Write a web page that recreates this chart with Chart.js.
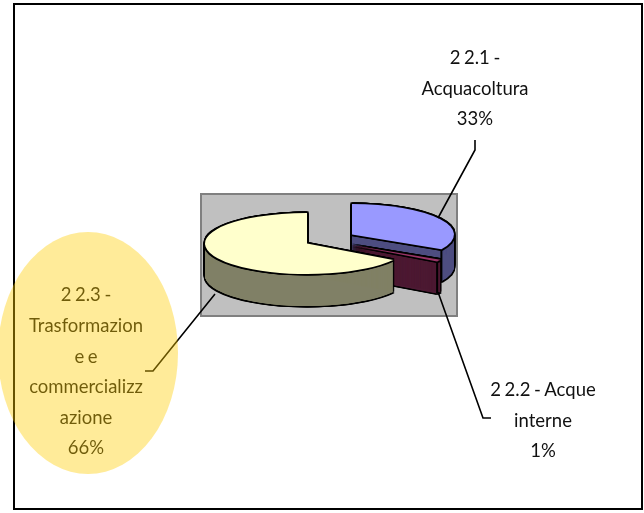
<!DOCTYPE html>
<html>
<head>
<meta charset="utf-8">
<style>
html, body { margin: 0; padding: 0; background: #fff; }
canvas { display: block; }
</style>
<script src="https://cdn.jsdelivr.net/npm/chart.js@4"></script>
</head>
<body>
<canvas id="myChart" width="644" height="513"></canvas>
<script>
// data
var categories = ['2 2.1 - Acquacoltura', '2 2.2 - Acque interne', '2 2.3 - Trasformazione e commercializzazione'];
var shares = [33, 1, 66];
var labelLines = [
    ['2 2.1 -', 'Acquacoltura'],
    ['2 2.2 - Acque', 'interne'],
    ['2 2.3 -', 'Trasformazion', 'e e', 'commercializz', 'azione']
];

// colours
var topColors = ['#9999ff', '#993366', '#ffffcc'];
var sideColors = ['#4d4d80', '#4d1a33', '#808066'];

// 3d look of the pie
var pieRadius = 102;
var tilt = 0.3;
var depth = 32;
var pieShift = { x: -22, y: -11.5 };
var explode = [{ x: 45, y: -9 }, { x: 44, y: 1.5 }, { x: 0, y: 0 }];

// label placement, callout lines
var labelPos = [{ x: 475, y: 58 }, { x: 543, y: 390 }, { x: 86, y: 295.5 }];
var lineGap = 30.6;
var callouts = [
    [[438, 218], [475, 150], [475, 140]],
    [[438, 292], [483, 418], [491, 418]],
    [[215, 294], [153, 371], [145, 371]]
];

function arcOptions(color) {
    return {
        backgroundColor: color, borderColor: color, borderWidth: 0, borderAlign: 'center',
        offset: 0, spacing: 0, circular: true, borderDash: [], borderDashOffset: 0
    };
}

function stamp(ctx, arc, i, dx, dy, color) {
    ctx.save();
    ctx.translate(arc.x + pieShift.x + explode[i].x + dx, arc.y + pieShift.y + explode[i].y + dy);
    ctx.scale(1, tilt);
    ctx.translate(-arc.x, -arc.y);
    arc.options = arcOptions(color);
    arc.draw(ctx);
    ctx.restore();
}

// black halo made by stamping the slice around its position
function outline(ctx, arc, i, dy) {
    var w = 1.4;
    var dirs = [[w, 0], [-w, 0], [0, w], [0, -w], [w, w], [-w, w], [w, -w], [-w, -w]];
    dirs.forEach(function (d) {
        stamp(ctx, arc, i, d[0], dy + d[1], '#000');
    });
}

var pie3d = {
    id: 'pie3d',
    beforeDraw: function (chart) {
        var ctx = chart.ctx, a = chart.chartArea;
        ctx.save();
        ctx.fillStyle = '#fff';
        ctx.fillRect(0, 0, chart.width, chart.height);
        ctx.strokeStyle = '#000';
        ctx.lineWidth = 2;
        ctx.strokeRect(14, 4, 628, 505);
        ctx.fillStyle = '#c0c0c0';
        ctx.fillRect(a.left, a.top, a.width, a.height);
        ctx.strokeStyle = '#808080';
        ctx.strokeRect(a.left, a.top, a.width, a.height);
        ctx.restore();
    },
    beforeDatasetsDraw: function (chart) {
        var ctx = chart.ctx;
        var arcs = chart.getDatasetMeta(0).data;
        arcs.forEach(function (arc, i) {
            var d;
            for (d = 0; d <= depth; d++) outline(ctx, arc, i, d);
            // fine steps so the very thin wedge still builds a solid face
            for (d = 0; d <= depth; d += 0.2) stamp(ctx, arc, i, 0, d, sideColors[i]);

            // edge where the cut face meets the round wall
            var ex = arc.x + pieShift.x + explode[i].x + arc.outerRadius * Math.cos(arc.endAngle);
            var ey = arc.y + pieShift.y + explode[i].y + arc.outerRadius * tilt * Math.sin(arc.endAngle);
            if (i < 2) {
                ctx.save();
                ctx.strokeStyle = '#000';
                ctx.lineWidth = 2;
                ctx.beginPath();
                ctx.moveTo(ex, ey);
                ctx.lineTo(ex, ey + depth);
                ctx.stroke();
                ctx.restore();
            }

            outline(ctx, arc, i, 0);
            stamp(ctx, arc, i, 0, 0, topColors[i]);
        });
        return false;
    },
    afterDraw: function (chart) {
        var ctx = chart.ctx;
        ctx.save();

        ctx.strokeStyle = '#000';
        ctx.lineWidth = 1.6;
        callouts.forEach(function (pts) {
            ctx.beginPath();
            pts.forEach(function (p, k) {
                if (k === 0) ctx.moveTo(p[0], p[1]); else ctx.lineTo(p[0], p[1]);
            });
            ctx.stroke();
        });

        ctx.fillStyle = '#111';
        ctx.font = '18.5px Lato';
        ctx.textAlign = 'center';
        ctx.textBaseline = 'middle';
        ctx.wordSpacing = '-1.2px';
        labelLines.forEach(function (lines, i) {
            lines.concat(shares[i] + '%').forEach(function (txt, k) {
                ctx.fillText(txt, labelPos[i].x, labelPos[i].y + k * lineGap);
            });
        });

        // highlight ellipse sits over everything
        ctx.fillStyle = 'rgba(255,204,0,0.4)';
        ctx.beginPath();
        ctx.ellipse(88, 353, 90, 121, 0, 0, Math.PI * 2);
        ctx.fill();
        ctx.restore();
    }
};

var chart = new Chart(document.getElementById('myChart'), {
    type: 'pie',
    data: {
        labels: categories,
        datasets: [{
            data: shares,
            backgroundColor: topColors,
            borderWidth: 0
        }]
    },
    options: {
        responsive: false,
        animation: false,
        radius: pieRadius,
        layout: { padding: { left: 201, top: 194, right: 187, bottom: 197 } },
        plugins: { legend: { display: false }, tooltip: { enabled: false } }
    },
    plugins: [pie3d]
});
</script>
</body>
</html>
